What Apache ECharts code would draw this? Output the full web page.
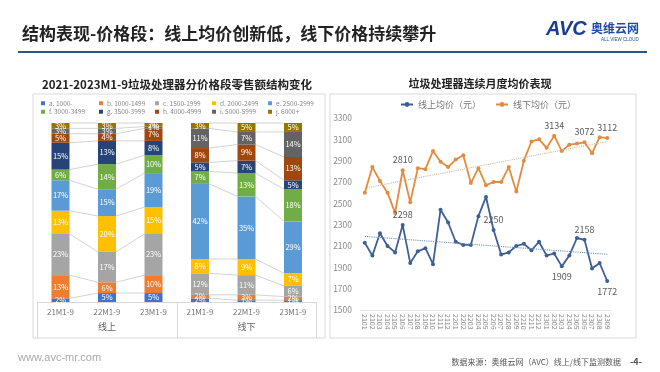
<!DOCTYPE html>
<html><head><meta charset="utf-8">
<script src="https://cdn.jsdelivr.net/npm/echarts@6/dist/echarts.min.js"></script>
<style>html,body{margin:0;padding:0;background:#fff}#c{width:660px;height:372px}</style>
</head><body><div id="c"></div>
<script>
// ---------- data ----------
const barCategories = ['21M1-9','22M1-9','23M1-9','21M1-9','22M1-9','23M1-9'];
const channelGroups = ['线上','线下'];
const priceBands = ['a. 1000-','b. 1000-1499','c. 1500-1999','d. 2000-2499','e. 2500-2999','f. 3000-3499','g. 3500-3999','h. 4000-4999','i. 5000-5999','j. 6000+'];
const shareA = [2,5,5,2,1,1];
const shareB = [13,6,10,2,3,2];
const shareC = [23,17,23,12,11,6];
const shareD = [13,20,15,8,9,7];
const shareE = [17,15,19,42,35,29];
const shareF = [6,14,10,7,13,18];
const shareG = [15,13,8,5,7,5];
const shareH = [5,4,7,8,9,13];
const shareI = [3,3,1,11,7,14];
const shareJ = [3,3,2,3,5,5];

const months = ['2101','2102','2103','2104','2105','2106','2107','2108','2109','2110','2111','2112',
                '2201','2202','2203','2204','2205','2206','2207','2208','2209','2210','2211','2212',
                '2301','2302','2303','2304','2305','2306','2307','2308','2309'];
const onlinePrice  = [2130,2010,2220,2100,2040,2298,1940,2050,2080,1930,2440,2320,2140,2110,2110,2380,2560,2250,2020,2040,2100,2120,2060,2140,2010,2030,1909,2010,2175,2158,1890,1940,1772];
const offlinePrice = [2600,2840,2710,2600,2410,2810,2510,2830,2820,2990,2890,2840,2910,2950,2690,2830,2670,2700,2700,2840,2610,2900,3080,3100,3020,3134,2990,3050,3060,3072,2970,3120,3112];
const onlineTrend  = [2190,2022];   // trendline ends
const offlineTrend = [2643,3080];
const offlineLabelAt = [5,25,29,32];
const onlineLabelAbove = [5,17,29];
const onlineLabelBelow = [26,32];
const yTicks = [1500,1700,1900,2100,2300,2500,2700,2900,3100,3300];

// ---------- chart ----------
const FONT = '"Noto Sans CJK SC","Noto Sans",sans-serif';
const bandColors = ['#4472C4','#ED7D31','#A5A5A5','#FFC000','#5B9BD5','#70AD47','#264478','#9E480E','#636363','#997300'];
const shareSeries = [shareA,shareB,shareC,shareD,shareE,shareF,shareG,shareH,shareI,shareJ];
const BAR_W = 18;

const connectorData = [];
[[0,1],[1,2],[3,4],[4,5]].forEach(([l,r]) => {
  let cl = 0, cr = 0;
  shareSeries.forEach(s => { cl += s[l]; cr += s[r]; connectorData.push([l, cl, cr]); });
});

const legendX = [41,99,155,212,268];
const bandLegends = priceBands.map((name,i) => ({
  data:[name], left: legendX[i%5], top: i<5 ? 100 : 108.5,
  icon:'rect', itemWidth:4, itemHeight:4, itemGap:3, padding:0, selectedMode:false,
  textStyle:{fontSize:6.5, color:'#888', fontFamily:FONT, padding:[0,0,0,-1]}
}));

const barSeries = priceBands.map((name,i) => ({
  name, type:'bar', stack:'share', xAxisIndex:0, yAxisIndex:0, barWidth:BAR_W,
  itemStyle:{color:bandColors[i]},
  label:{show:true, position:'inside', formatter:'{c}%', color:'#fff', fontSize:7.5, fontFamily:FONT},
  data: shareSeries[i], z:3
}));

function withLabels(vals, above, below){
  return vals.map((v,i) => {
    if (above.includes(i)) return {value:v, label:{show:true, position:'top', distance:4}};
    if (below.includes(i)) return {value:v, label:{show:true, position:'bottom', distance:4}};
    return v;
  });
}

const option = {
  animation:false,
  backgroundColor:'#fff',
  textStyle:{fontFamily:FONT},
  legend: bandLegends.concat([{
    data:['线上均价（元）','线下均价（元）'], left:400, top:100, itemWidth:12, itemHeight:6, itemGap:14,
    padding:0, selectedMode:false, textStyle:{fontSize:9, color:'#777', fontFamily:FONT}
  }]),
  grid:[
    {left:37.25, right:343.75, top:123, bottom:70},
    {left:361, right:49, top:118, bottom:62}
  ],
  xAxis:[
    {type:'category', gridIndex:0, data:barCategories, axisLine:{lineStyle:{color:'#d9d9d9'}},
     axisTick:{show:false}, axisLabel:{fontSize:8, color:'#777', margin:6, fontFamily:FONT}},
    {type:'category', gridIndex:0, data:channelGroups, position:'bottom', axisLine:{show:false},
     axisTick:{show:true, length:36, lineStyle:{color:'#d9d9d9'}}, axisLabel:{fontSize:9, color:'#666', margin:20, fontFamily:FONT}},
    {type:'category', gridIndex:1, data:months, boundaryGap:true, axisLine:{lineStyle:{color:'#e3e3e3'}},
     axisTick:{show:false}, axisLabel:{interval:0, rotate:-90, fontSize:7, color:'#8a8a8a', margin:4, fontFamily:FONT}}
  ],
  yAxis:[
    {type:'value', gridIndex:0, min:0, max:100, show:false},
    {type:'value', gridIndex:1, min:1500, max:3300, interval:100,
     axisLine:{show:false}, axisTick:{show:false}, splitLine:{show:false},
     axisLabel:{fontSize:8.5, color:'#8c8c8c', margin:9, fontFamily:FONT,
       formatter: v => yTicks.includes(v) ? String(v) : ''}}
  ],
  series: [
    {type:'custom', xAxisIndex:0, yAxisIndex:0, data:connectorData, z:1, silent:true,
     encode:{x:0, y:1},
     renderItem:(params, api) => {
       const l = api.value(0);
       const a = api.coord([l, api.value(1)]);
       const b = api.coord([l+1, api.value(2)]);
       return {type:'line', shape:{x1:a[0]+BAR_W/2, y1:a[1], x2:b[0]-BAR_W/2, y2:b[1]},
               style:{stroke:'#c8c8c8', lineWidth:0.8}};
     }}
  ].concat(barSeries).concat([
    {name:'线上均价（元）', type:'line', xAxisIndex:2, yAxisIndex:1,
     data: withLabels(onlinePrice, onlineLabelAbove, onlineLabelBelow),
     symbol:'circle', symbolSize:4, color:'#3D5F96', lineStyle:{width:1.8, color:'#3D5F96'},
     itemStyle:{color:'#3D5F96'}, label:{show:false, fontSize:9, color:'#595959', fontFamily:FONT},
     markLine:{silent:true, symbol:'none', label:{show:false},
       lineStyle:{type:'dotted', color:'#6f8fb3', width:1.1},
       data:[[{coord:[months[0], onlineTrend[0]]},{coord:[months[months.length-1], onlineTrend[1]]}]]}},
    {name:'线下均价（元）', type:'line', xAxisIndex:2, yAxisIndex:1,
     data: withLabels(offlinePrice, offlineLabelAt, []),
     symbol:'circle', symbolSize:4, color:'#E38B3E', lineStyle:{width:1.8, color:'#E38B3E'},
     itemStyle:{color:'#E38B3E'}, label:{show:false, fontSize:9, color:'#595959', fontFamily:FONT},
     markLine:{silent:true, symbol:'none', label:{show:false},
       lineStyle:{type:'dotted', color:'#c9b8a0', width:1.1},
       data:[[{coord:[months[0], offlineTrend[0]]},{coord:[months[months.length-1], offlineTrend[1]]}]]}}
  ]),
  graphic:[
    {type:'text', left:22, top:25, style:{text:'结构表现-价格段：线上均价创新低，线下价格持续攀升', font:'bold 17px '+FONT, fill:'#222'}},
    {type:'line', shape:{x1:18, y1:52, x2:647, y2:52}, style:{stroke:'#2B5680', lineWidth:2}},
    {type:'text', left:546, top:19, style:{text:'AVC', font:'italic bold 20px "Liberation Sans",Arial,sans-serif', fill:'#1D3E8F'}},
    {type:'text', left:591, top:22, style:{text:'奥维云网', font:'bold 12px '+FONT, fill:'#1F4C9E'}},
    {type:'text', left:601, top:37, style:{text:'ALL VIEW CLOUD', font:'4.5px "Liberation Sans",sans-serif', fill:'#1F4C9E'}},
    {type:'rect', shape:{x:33, y:94, width:292, height:244}, style:{fill:'none', stroke:'#d9d9d9', lineWidth:1}, z:-1},
    {type:'rect', shape:{x:330, y:94, width:306, height:244}, style:{fill:'none', stroke:'#d9d9d9', lineWidth:1}, z:-1},
    {type:'text', x:177, y:85, style:{text:'2021-2023M1-9垃圾处理器分价格段零售额结构变化', font:'bold 11.5px '+FONT, fill:'#222', align:'center', verticalAlign:'middle'}},
    {type:'text', x:480, y:84, style:{text:'垃圾处理器连续月度均价表现', font:'bold 11px '+FONT, fill:'#222', align:'center', verticalAlign:'middle'}},
    {type:'text', left:18, top:352, style:{text:'www.avc-mr.com', font:'11px "Liberation Sans",Arial,sans-serif', fill:'#aaa'}},
    {type:'text', x:621, y:362, style:{text:'数据来源：奥维云网（AVC）线上/线下监测数据', font:'8px '+FONT, fill:'#555', align:'right', verticalAlign:'middle'}},
    {type:'text', x:636, y:362, style:{text:'-4-', font:'bold 9px '+FONT, fill:'#555', align:'center', verticalAlign:'middle'}}
  ]
};
const chart = echarts.init(document.getElementById('c'), null, {renderer:'canvas', width:660, height:372});
chart.setOption(option);
</script>
</body></html>
